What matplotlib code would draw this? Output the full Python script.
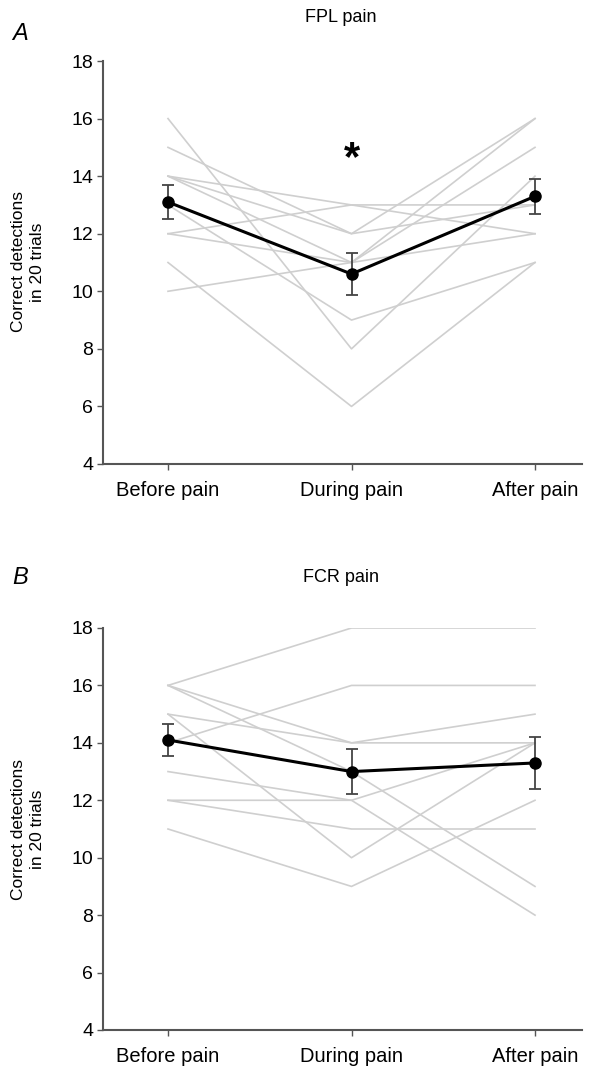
import matplotlib
matplotlib.use("Agg")
import matplotlib.pyplot as plt
import numpy as np

plt.rcParams['font.family'] = ['Liberation Sans', 'DejaVu Sans']

conditions = ["Before pain", "During pain", "After pain"]

# Panel A: FPL pain, individual subjects (before, during, after)
fpl_before = [16, 15, 14, 14, 14, 13, 12, 12, 11, 10]
fpl_during = [8, 12, 13, 12, 11, 9, 13, 11, 6, 11]
fpl_after = [14, 16, 13, 13, 16, 11, 12, 15, 11, 12]
fpl_mean = [13.1, 10.6, 13.3]
fpl_sem = [0.59, 0.73, 0.60]

# Panel B: FCR pain, individual subjects
fcr_before = [16, 14, 16, 15, 16, 15, 13, 12, 12, 11]
fcr_during = [18, 16, 14, 14, 13, 10, 12, 12, 11, 9]
fcr_after = [18, 16, 15, 14, 9, 14, 14, 8, 11, 12]
fcr_mean = [14.1, 13.0, 13.3]
fcr_sem = [0.55, 0.79, 0.91]

W, H = 594, 1069
fig = plt.figure(figsize=(W / 100, H / 100), dpi=100)

def fx(px):
    return px / W

def fy(py):
    return 1 - py / H

grey_spine = "#555555"

def make_panel(top_px, bottom_px, before, during, after, mean, sem):
    left_px, right_px = 103, 582
    ax = fig.add_axes([fx(left_px), fy(bottom_px), fx(right_px) - fx(left_px),
                       fy(top_px) - fy(bottom_px)])
    x = np.arange(len(conditions))
    for b, d, a in zip(before, during, after):
        ax.plot(x, [b, d, a], color="#cfcfcf", lw=1.2, zorder=1)
    ax.errorbar(x, mean, yerr=sem, fmt="none", ecolor="#444444", elinewidth=1.3,
                capsize=4, capthick=1.3, zorder=3)
    ax.plot(x, mean, color="black", lw=2.2, marker="o", markersize=8, zorder=4)
    ax.set_ylim(4, 18)
    ax.set_yticks(range(4, 19, 2))
    # x positions: Before at 168px, During 352px, After 535px
    unit = (535 - 168) / 2
    ax.set_xlim((left_px - 168) / unit, (right_px - 168) / unit)
    ax.set_xticks(x)
    ax.set_xticklabels(conditions, fontsize=14.5)
    ax.tick_params(axis="y", labelsize=14, length=4, width=1, color=grey_spine, pad=3)
    ax.tick_params(axis="x", length=4, width=1, color=grey_spine, pad=8)
    for s in ["top", "right"]:
        ax.spines[s].set_visible(False)
    for s in ["left", "bottom"]:
        ax.spines[s].set_color(grey_spine)
        ax.spines[s].set_linewidth(1.5)
    return ax

axA = make_panel(61, 464, fpl_before, fpl_during, fpl_after, fpl_mean, fpl_sem)
axB = make_panel(628, 1030, fcr_before, fcr_during, fcr_after, fcr_mean, fcr_sem)

axA.text(1, 14.6, "*", ha="center", va="center", fontsize=30, fontweight="bold")

# panel letters and titles
fig.text(fx(12), fy(33), "A", fontsize=17, style="italic", ha="left", va="center")
fig.text(fx(341), fy(17), "FPL pain", fontsize=13, ha="center", va="center")
fig.text(fx(12), fy(578), "B", fontsize=17, style="italic", ha="left", va="center")
fig.text(fx(341), fy(577), "FCR pain", fontsize=13, ha="center", va="center")

for ycen in (262, 829):
    fig.text(fx(28), fy(ycen), "Correct detections\nin 20 trials", rotation=90,
             fontsize=12.5, ha="center", va="center", linespacing=1.25)

fig.savefig("out.png", dpi=100)
